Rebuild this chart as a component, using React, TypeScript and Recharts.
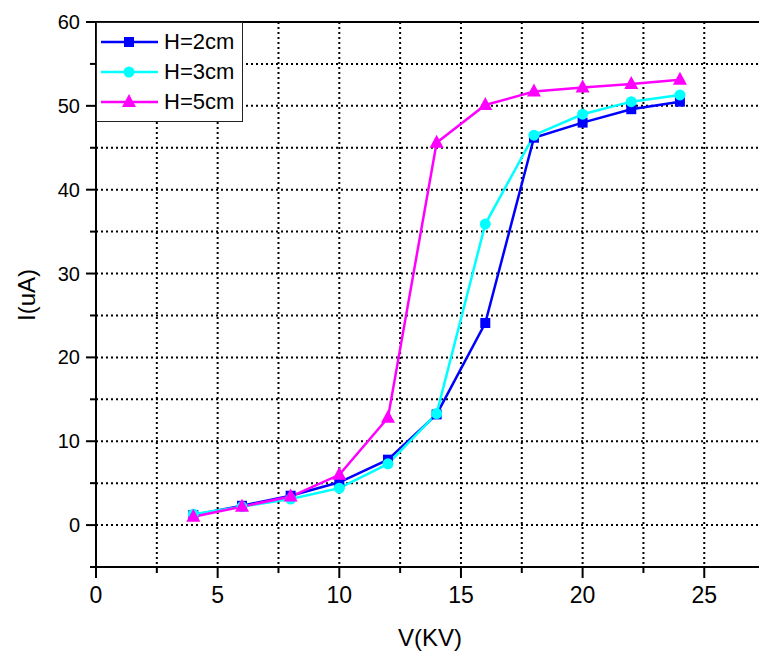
import React from "react";
import {
  LineChart,
  Line,
  XAxis,
  YAxis,
  CartesianGrid,
  Legend,
  ReferenceLine,
  Label,
} from "recharts";

// V(KV) on the x axis, I(uA) for each electrode height
const voltage = [4, 6, 8, 10, 12, 14, 16, 18, 20, 22, 24];
const current2cm = [1.2, 2.3, 3.5, 5.1, 7.8, 13.2, 24.1, 46.2, 48.0, 49.6, 50.5];
const current3cm = [1.3, 2.2, 3.1, 4.4, 7.3, 13.3, 35.9, 46.5, 49.0, 50.5, 51.3];
const current5cm = [1.0, 2.2, 3.4, 6.0, 12.8, 45.6, 50.1, 51.7, 52.2, 52.6, 53.1];

const xTicks = [0, 2.5, 5, 7.5, 10, 12.5, 15, 17.5, 20, 22.5, 25];
const yTicks = [-5, 0, 5, 10, 15, 20, 25, 30, 35, 40, 45, 50, 55, 60];
const xGrid = [2.5, 5, 7.5, 10, 12.5, 15, 17.5, 20, 22.5, 25];
const yGrid = [0, 5, 10, 15, 20, 25, 30, 35, 40, 45, 50, 55];

const series = [
  { key: "h2", name: "H=2cm", color: "#0000ff", marker: "square" },
  { key: "h3", name: "H=3cm", color: "#00ffff", marker: "circle" },
  { key: "h5", name: "H=5cm", color: "#ff00ff", marker: "triangle" },
];

const data = voltage.map((v, i) => ({
  v,
  h2: current2cm[i],
  h3: current3cm[i],
  h5: current5cm[i],
}));

const FONT = "'Liberation Sans', Arial, sans-serif";
const NARROW = "'Liberation Sans Narrow', 'Liberation Sans', Arial, sans-serif";

const Marker = ({ cx, cy, color, marker }: any) => {
  if (cx == null || cy == null) return null;
  if (marker === "square") {
    return <rect x={cx - 5} y={cy - 5} width={10} height={10} fill={color} />;
  }
  if (marker === "circle") {
    return <circle cx={cx} cy={cy} r={5.5} fill={color} />;
  }
  return (
    <polygon
      points={`${cx},${cy - 8} ${cx - 7},${cy + 5} ${cx + 7},${cy + 5}`}
      fill={color}
    />
  );
};

const XTick = ({ x, y, payload }: any) => {
  const major = payload.value % 5 === 0;
  return (
    <g>
      <line x1={x} y1={y} x2={x} y2={y + (major ? 11 : 6)} stroke="#000" strokeWidth={2} />
      {major && (
        <text x={x} y={y + 36} textAnchor="middle" fontSize={23} fontFamily={NARROW} fill="#000">
          {payload.value}
        </text>
      )}
    </g>
  );
};

const YTick = ({ x, y, payload }: any) => {
  const major = payload.value % 10 === 0;
  return (
    <g>
      <line x1={x} y1={y} x2={x - (major ? 10 : 6)} y2={y} stroke="#000" strokeWidth={2} />
      {major && (
        <text x={x - 16} y={y + 7} textAnchor="end" fontSize={20} fontFamily={FONT} fill="#000">
          {payload.value}
        </text>
      )}
    </g>
  );
};

const renderLegend = () => (
  <div
    style={{
      border: "1.5px solid #222",
      background: "#fff",
      width: 147,
      padding: "4px 0 4px 3px",
      boxSizing: "border-box",
    }}
  >
    {series.map((s) => (
      <div key={s.key} style={{ display: "flex", alignItems: "center", height: 30 }}>
        <svg width={60} height={30}>
          <line x1={1} y1={15} x2={58} y2={15} stroke={s.color} strokeWidth={2.5} />
          <Marker cx={29} cy={15} color={s.color} marker={s.marker} />
        </svg>
        <span style={{ fontFamily: FONT, fontSize: 22, color: "#000", marginLeft: 4, lineHeight: "30px" }}>
          {s.name}
        </span>
      </div>
    ))}
  </div>
);

export default function App() {
  return (
    <div style={{ position: "absolute", left: 0, top: 0, background: "#fff" }}>
      <LineChart
        width={759}
        height={657}
        data={data}
        margin={{ top: 22, right: 0, bottom: 0, left: 0 }}
      >
        <CartesianGrid
          stroke="#000"
          strokeWidth={2}
          strokeDasharray="2 3"
          verticalValues={xGrid}
          horizontalValues={yGrid}
        />
        <ReferenceLine y={60} stroke="#000" strokeWidth={2} />
        <XAxis
          type="number"
          dataKey="v"
          domain={[0, 27.25]}
          ticks={xTicks}
          interval={0}
          tickSize={0}
          tickMargin={0}
          tick={XTick}
          height={90}
          allowDataOverflow
          axisLine={{ stroke: "#000", strokeWidth: 2 }}
        >
          <Label
            content={() => (
              <text x={430} y={646} textAnchor="middle" fontSize={24} fontFamily={FONT} fill="#000">
                V(KV)
              </text>
            )}
          />
        </XAxis>
        <YAxis
          type="number"
          domain={[-5, 60]}
          ticks={yTicks}
          interval={0}
          tickSize={0}
          tickMargin={0}
          tick={YTick}
          width={96}
          allowDataOverflow
          axisLine={{ stroke: "#000", strokeWidth: 2 }}
        >
          <Label
            content={() => (
              <text
                x={0}
                y={0}
                transform="translate(35,295) rotate(-90)"
                textAnchor="middle"
                fontSize={24}
                fontFamily={FONT}
                fill="#000"
              >
                I(uA)
              </text>
            )}
          />
        </YAxis>
        <Legend
          layout="horizontal"
          verticalAlign="middle"
          align="center"
          content={renderLegend}
          wrapperStyle={{ position: "absolute", left: 96, top: 22, width: "auto", height: "auto" }}
        />
        {series.map((s) => (
          <Line
            key={s.key}
            type="linear"
            dataKey={s.key}
            name={s.name}
            stroke={s.color}
            strokeWidth={2.5}
            dot={(p: any) => <Marker key={`${s.key}-${p.index}`} cx={p.cx} cy={p.cy} color={s.color} marker={s.marker} />}
            activeDot={false}
            isAnimationActive={false}
          />
        ))}
      </LineChart>
    </div>
  );
}
